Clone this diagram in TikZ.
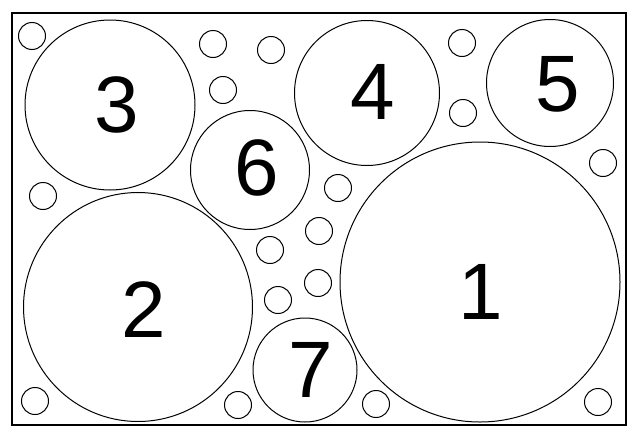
\documentclass[tikz,border=0pt]{standalone}
\usepackage{fontspec}
\setmainfont{Liberation Sans}
\begin{document}
\begin{tikzpicture}[x=1pt,y=-1pt,
  big/.style={circle,draw,line width=1pt,inner sep=0pt,minimum size=#1},
  small/.style={circle,draw,line width=1pt,inner sep=0pt,minimum size=27pt},
  num/.style={inner sep=0pt,font=\fontsize{80}{80}\selectfont}]
\useasboundingbox (0,0) rectangle (629,434);
\draw[line width=1.2pt] (12,13) rectangle (626,425);
% big circles
\node[big=280pt] (c1) at (480,282) {};
\node[big=229pt] (c2) at (138,307) {};
\node[big=170pt] (c3) at (110,105) {};
\node[big=145pt] (c4) at (367,93) {};
\node[big=127pt] (c5) at (550,83) {};
\node[big=119pt] (c6) at (250,170) {};
\node[big=104pt] (c7) at (305,370) {};
% labels
\node[num] (l1) at (481,292) {1};
\node[num] (l2) at (144,310) {2};
\node[num] (l3) at (117,105) {3};
\node[num] (l4) at (373,92) {4};
\node[num] (l5) at (558,84) {5};
\node[num] (l6) at (257,168) {6};
\node[num] (l7) at (311,370) {7};
% small circles
\node[small] (s1) at (32,36) {};
\node[small] (s2) at (213,44) {};
\node[small] (s3) at (271,50) {};
\node[small] (s4) at (223,90) {};
\node[small] (s5) at (462,43) {};
\node[small] (s6) at (463,113) {};
\node[small] (s7) at (603,163) {};
\node[small] (s8) at (43,196) {};
\node[small] (s9) at (338,188) {};
\node[small] (s10) at (319,231) {};
\node[small] (s11) at (270,250) {};
\node[small] (s12) at (318,283) {};
\node[small] (s13) at (278,300) {};
\node[small] (s14) at (35,401) {};
\node[small] (s15) at (238,405) {};
\node[small] (s16) at (376,404) {};
\node[small] (s17) at (598,402) {};
\end{tikzpicture}
\end{document}
